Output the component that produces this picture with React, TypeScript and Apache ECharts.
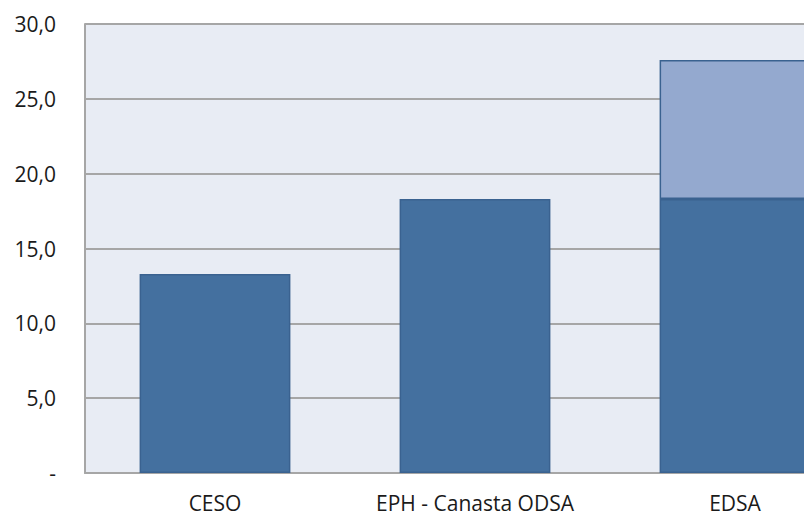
import React, { useEffect, useRef } from "react";
import * as echarts from "echarts";

const categories = ["CESO", "EPH - Canasta ODSA", "EDSA"];
const baseValues = [13.3, 18.3, 18.3];
const extraValues: (number | string)[] = ["-", "-", 9.3];
const yTicks = { min: 0, max: 30, interval: 5 };

export default function App() {
  const ref = useRef<HTMLDivElement>(null);
  useEffect(() => {
    const chart = echarts.init(ref.current!, null, { renderer: "svg" });
    chart.setOption({
      animation: false,
      grid: {
        left: 85,
        top: 24,
        width: 780,
        bottom: 43,
        containLabel: false,
        outerBoundsMode: "none",
        show: true,
        backgroundColor: "#E8ECF4",
        borderColor: "#9A9A9A",
        borderWidth: 1,
        borderType: "dotted",
      },
      xAxis: {
        type: "category",
        data: categories,
        axisLine: { show: true, lineStyle: { color: "#A6A6A6", width: 2 } },
        axisTick: { show: false },
        axisLabel: {
          color: "#1A1A1A",
          fontSize: 21,
          lineHeight: 22,
          fontFamily: "Open Sans",
          margin: 19,
        },
      },
      yAxis: {
        type: "value",
        min: yTicks.min,
        max: yTicks.max,
        interval: yTicks.interval,
        axisLine: { show: true, lineStyle: { color: "#A6A6A6", width: 2 } },
        axisTick: { show: false },
        splitLine: { show: true, lineStyle: { color: "#A6A6A6", width: 2 } },
        axisLabel: {
          color: "#1A1A1A",
          fontSize: 21,
          fontFamily: "Open Sans",
          margin: 29,
          formatter: (v: number) => (v === 0 ? "-" : v.toFixed(1).replace(".", ",")),
        },
      },
      series: [
        {
          type: "bar",
          stack: "s",
          data: baseValues,
          barWidth: "58%",
          itemStyle: { color: "#44709F", borderColor: "#3A6290", borderWidth: 1.5 },
        },
        {
          type: "bar",
          stack: "s",
          data: extraValues,
          barWidth: "58%",
          itemStyle: { color: "#94A9CF", borderColor: "#3A6290", borderWidth: 1.5 },
        },
      ],
    });
    return () => chart.dispose();
  }, []);
  return (
    <div
      ref={ref}
      style={{ position: "fixed", left: 0, top: 0, width: 804, height: 516, background: "#fff" }}
    />
  );
}
